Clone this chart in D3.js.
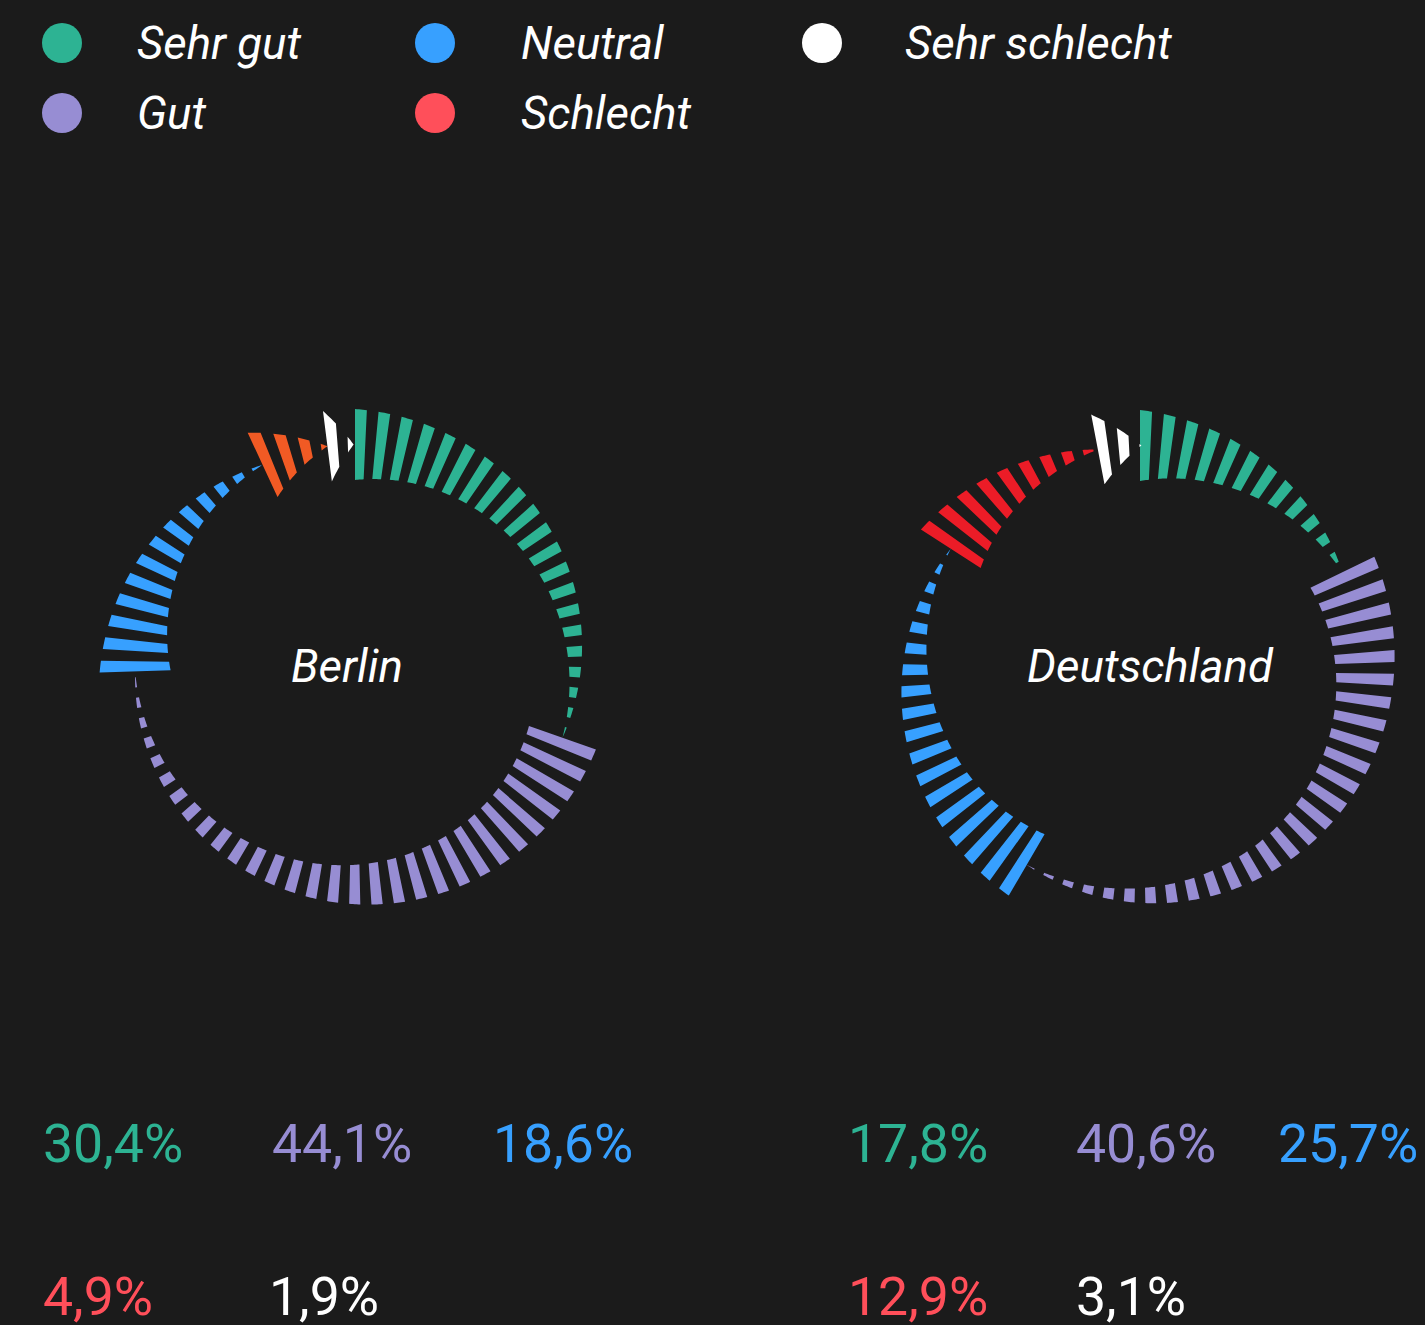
<!DOCTYPE html>
<html>
<head>
<meta charset="utf-8">
<script src="https://cdn.jsdelivr.net/npm/d3@7/dist/d3.min.js"></script>
<style>
  html, body { margin: 0; padding: 0; background: #1b1b1b; }
  svg { display: block; }
</style>
</head>
<body>
<svg id="chart" width="1425" height="1325"></svg>
<script>
// ---- data ----
const categories = ["Sehr gut", "Gut", "Neutral", "Schlecht", "Sehr schlecht"];
const regions = ["Berlin", "Deutschland"];
const berlinValues = [30.4, 44.1, 18.6, 4.9, 1.9];
const deutschlandValues = [17.8, 40.6, 25.7, 12.9, 3.1];
const percentLabelsBerlin = ["30,4%", "44,1%", "18,6%", "4,9%", "1,9%"];
const percentLabelsDeutschland = ["17,8%", "40,6%", "25,7%", "12,9%", "3,1%"];

// ---- styles ----
const legendColors = ["#2db393", "#978dd3", "#37a0ff", "#ff4f5a", "#ffffff"];
const berlinRingColors = ["#2db393", "#978dd3", "#37a0ff", "#f15a24", "#ffffff"];
const deutschlandRingColors = ["#2db393", "#978dd3", "#37a0ff", "#ec1c27", "#ffffff"];
const labelColors = ["#2db393", "#978dd3", "#37a0ff", "#ff4f5a", "#ffffff"];

const svg = d3.select("#chart");
svg.append("rect").attr("width", 1425).attr("height", 1325).attr("fill", "#1b1b1b");

const FONT = "Roboto, 'Noto Sans', sans-serif";

// ---- legend ----
const legendPos = [
  {cx: 62, cy: 43, tx: 137}, {cx: 62, cy: 113, tx: 137},
  {cx: 435, cy: 43, tx: 521}, {cx: 435, cy: 113, tx: 521},
  {cx: 822, cy: 43, tx: 905}
];
const legend = svg.append("g");
categories.forEach((c, i) => {
  const p = legendPos[i];
  legend.append("circle").attr("cx", p.cx).attr("cy", p.cy).attr("r", 20).attr("fill", legendColors[i]);
  legend.append("text").attr("x", p.tx).attr("y", p.cy + 16)
    .attr("fill", "#ffffff").attr("font-family", FONT).attr("font-style", "italic")
    .attr("font-size", 45.6).text(c);
});

// ---- rings ----
const STEP = 5.33 * Math.PI / 180;   // stripe period
const WIDTH = 2.67 * Math.PI / 180;  // stripe angular width
const TMAX = 71;

const ringConfigs = [
  {name: regions[0], values: berlinValues, colors: berlinRingColors, cx: 355, cy: 664.5, rc: 220, labelX: 347},
  {name: regions[1], values: deutschlandValues, colors: deutschlandRingColors, cx: 1140, cy: 670.5, rc: 225, labelX: 1150}
];

const angle = d3.scaleLinear().domain([0, 100]).range([0, 2 * Math.PI]);
const line = d3.line().curve(d3.curveLinearClosed);

function polar(r, a) { return [r * Math.sin(a), -r * Math.cos(a)]; }

ringConfigs.forEach(cfg => {
  const g = svg.append("g").attr("transform", `translate(${cfg.cx},${cfg.cy})`);
  let cum = 0;
  cfg.values.forEach((v, i) => {
    const a0 = angle(cum), a1 = angle(cum + v);
    cum += v;
    const thick = d3.scaleLinear().domain([a0, a1]).range([TMAX, 0]).clamp(true);
    const stripes = [];
    for (let k = 0; a0 + k * STEP < a1 - 1e-6; k++) {
      const s = a0 + k * STEP;
      const e = Math.min(s + WIDTH, a1);
      stripes.push([s, e]);
    }
    g.selectAll(null).data(stripes).enter().append("path")
      .attr("fill", cfg.colors[i])
      .attr("d", d => {
        const [s, e] = d;
        const n = 6;
        const outer = [], inner = [];
        for (let j = 0; j <= n; j++) {
          const a = s + (e - s) * j / n;
          const t = thick(a) / 2;
          outer.push(polar(cfg.rc + t, a));
          inner.push(polar(cfg.rc - t, a));
        }
        return line(outer.concat(inner.reverse()));
      });
  });
  svg.append("text").attr("x", cfg.labelX).attr("y", 682)
    .attr("text-anchor", "middle").attr("fill", "#ffffff")
    .attr("font-family", FONT).attr("font-style", "italic").attr("font-size", 45.6)
    .text(cfg.name);
});

// ---- percentage labels ----
const labelPos = [
  {x: [43, 272, 493, 43, 269], y: [1162, 1162, 1162, 1315, 1315], labels: percentLabelsBerlin},
  {x: [848, 1076, 1278, 848, 1076], y: [1162, 1162, 1162, 1315, 1315], labels: percentLabelsDeutschland}
];
labelPos.forEach(lp => {
  lp.labels.forEach((t, i) => {
    svg.append("text").attr("x", lp.x[i]).attr("y", lp.y[i])
      .attr("fill", labelColors[i]).attr("font-family", FONT)
      .attr("font-size", 53.6).text(t);
  });
});
</script>
</body>
</html>
